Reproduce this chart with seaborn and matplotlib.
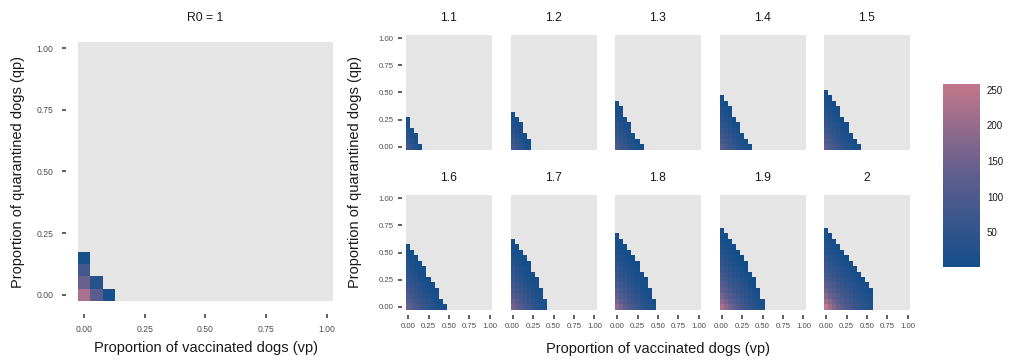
import numpy as np
import pandas as pd
import matplotlib
matplotlib.use("Agg")
import matplotlib.pyplot as plt
import seaborn as sns
from matplotlib.colors import LinearSegmentedColormap, ListedColormap, Normalize
from matplotlib.cm import ScalarMappable

sns.set_theme(style="white")
plt.rcParams["font.family"] = ["Liberation Sans", "DejaVu Sans"]

# grid of control proportions (vaccinated vp on x, quarantined qp on y)
grid = np.round(np.arange(21) * 0.05, 2)
tick_vals = [0.0, 0.25, 0.5, 0.75, 1.0]
tick_text = ["0.00", "0.25", "0.50", "0.75", "1.00"]

r0_labels = ["1", "1.1", "1.2", "1.3", "1.4", "1.5", "1.6", "1.7", "1.8", "1.9", "2"]

# values per panel: one list per vp column (vp = 0, 0.05, ...), each listing qp = 0, 0.05, ... upward
r0_1 = [[225, 140, 80, 10], [120, 35], [10]]
r0_1_1 = [[75, 55, 40, 28, 18, 8], [50, 35, 22, 10], [30, 18, 8], [8]]
r0_1_2 = [[80, 62, 48, 36, 25, 16, 7], [60, 46, 34, 23, 14, 6], [42, 30, 20, 12, 5],
          [22, 13, 5], [10, 4]]
r0_1_3 = [[95, 78, 63, 50, 40, 30, 21, 13, 6], [76, 61, 48, 37, 27, 18, 11, 5],
          [58, 45, 34, 24, 15, 7], [42, 31, 21, 12, 5], [26, 16, 7], [14, 6], [5]]
r0_1_4 = [[110, 92, 76, 62, 50, 40, 30, 21, 13, 6], [90, 74, 61, 49, 38, 28, 19, 11, 5],
          [72, 58, 46, 35, 25, 16, 9, 4], [55, 43, 32, 22, 13, 6], [40, 29, 19, 11, 5],
          [25, 15, 6], [14, 6], [5]]
r0_1_5 = [[125, 105, 88, 73, 60, 48, 38, 28, 19, 12, 5], [103, 86, 71, 58, 46, 35, 26, 17, 10, 4],
          [84, 69, 56, 44, 33, 24, 15, 8, 4], [66, 53, 42, 31, 22, 13, 7, 3],
          [50, 39, 28, 19, 11, 5], [36, 26, 17, 9, 4], [22, 13, 6], [12, 5], [4]]
r0_1_6 = [[140, 118, 99, 83, 69, 57, 46, 36, 27, 19, 11, 5],
          [116, 97, 81, 67, 55, 44, 34, 25, 17, 10, 4],
          [95, 79, 65, 53, 42, 32, 23, 15, 8, 4], [76, 63, 51, 40, 30, 21, 13, 7, 3],
          [60, 48, 37, 28, 19, 12, 6, 3], [45, 34, 25, 16, 9, 4], [32, 23, 14, 7, 3],
          [20, 12, 6, 3], [10, 4], [4]]
r0_1_7 = [[160, 135, 113, 95, 79, 65, 53, 42, 33, 24, 16, 9, 4],
          [133, 111, 93, 77, 63, 51, 40, 31, 22, 14, 8, 3],
          [109, 90, 75, 61, 49, 38, 29, 20, 12, 6, 3],
          [88, 73, 59, 47, 37, 27, 18, 11, 5, 3], [70, 57, 45, 35, 25, 17, 10, 5, 2],
          [54, 42, 32, 23, 15, 8, 3], [40, 30, 21, 13, 7, 3], [27, 18, 10, 4], [15, 6]]
r0_1_8 = [[185, 157, 132, 111, 93, 77, 63, 51, 40, 31, 23, 15, 8, 3],
          [155, 130, 109, 91, 75, 62, 50, 39, 30, 21, 14, 7, 3],
          [128, 107, 89, 74, 60, 48, 38, 28, 20, 12, 6, 3],
          [104, 87, 72, 58, 47, 36, 27, 18, 11, 5, 2],
          [84, 69, 56, 45, 35, 25, 17, 10, 5, 2], [66, 53, 42, 32, 23, 15, 8, 4, 2],
          [50, 39, 29, 20, 12, 6, 3], [36, 27, 18, 10, 5, 2], [24, 15, 8, 3], [13, 5]]
r0_1_9 = [[220, 187, 158, 134, 113, 95, 79, 65, 53, 42, 32, 23, 15, 8, 3],
          [185, 157, 133, 112, 94, 78, 64, 52, 41, 31, 22, 14, 7, 3],
          [155, 131, 111, 93, 77, 63, 51, 40, 30, 21, 13, 6, 3],
          [129, 109, 92, 76, 62, 50, 39, 29, 20, 12, 6, 2],
          [106, 89, 74, 61, 49, 38, 28, 19, 11, 5, 2],
          [86, 72, 59, 47, 37, 27, 18, 10, 5, 2], [69, 56, 45, 35, 25, 16, 9, 4, 2],
          [53, 42, 32, 22, 13, 6, 3], [39, 29, 20, 11, 5, 2], [26, 17, 9, 3], [14, 5]]
r0_2 = [[258, 215, 180, 150, 125, 104, 86, 71, 58, 46, 36, 27, 19, 11, 5],
        [212, 178, 149, 124, 103, 86, 71, 58, 46, 36, 27, 19, 11, 5],
        [176, 148, 124, 103, 86, 71, 58, 46, 36, 27, 19, 11, 5],
        [146, 123, 103, 86, 71, 58, 46, 36, 27, 19, 11, 5],
        [121, 102, 86, 71, 58, 46, 36, 27, 19, 11, 5],
        [100, 85, 71, 58, 46, 36, 27, 19, 11, 5],
        [83, 70, 58, 46, 36, 27, 19, 11, 5],
        [68, 57, 46, 36, 27, 19, 11, 5],
        [55, 45, 36, 27, 19, 11, 5],
        [43, 35, 27, 19, 11, 4],
        [33, 26, 19, 11, 4],
        [24, 17, 10, 1]]

panel_values = [r0_1, r0_1_1, r0_1_2, r0_1_3, r0_1_4, r0_1_5,
                r0_1_6, r0_1_7, r0_1_8, r0_1_9, r0_2]

# long table of all tiles
rows = []
for lab, cols in zip(r0_labels, panel_values):
    for i, col in enumerate(cols):
        for j, v in enumerate(col):
            rows.append((lab, grid[i], grid[j], v))
df = pd.DataFrame(rows, columns=["R0", "vp", "qp", "value"])

low, mid, high = "#144E8A", "#5F5E8E", "#C2778A"
cmap = LinearSegmentedColormap.from_list("bluepink", [low, mid, high])
vmin, vmax = df["value"].min(), df["value"].max()
norm = Normalize(vmin=vmin, vmax=vmax)
na_grey = "#E5E5E5"

pos = np.searchsorted(grid, tick_vals) + 0.5
ypos = (len(grid) - 1 - np.searchsorted(grid, tick_vals)) + 0.5
pad = 1.05  # 5% expansion around the tile grid, in tile units

tick_color = "#333333"
label_color = "#4D4D4D"
text_color = "#1A1A1A"


def draw_panel(ax, lab, show_x, show_y, tick_size, xpad, ypad):
    sub = df[df["R0"] == lab]
    mat = (sub.pivot(index="qp", columns="vp", values="value")
           .reindex(index=grid[::-1], columns=grid))
    background = pd.DataFrame(np.ones_like(mat.values, dtype=float),
                              index=mat.index, columns=mat.columns)
    sns.heatmap(background, cmap=ListedColormap([na_grey]), cbar=False, ax=ax,
                linewidths=0, xticklabels=False, yticklabels=False)
    sns.heatmap(mat, cmap=cmap, vmin=vmin, vmax=vmax, cbar=False, ax=ax,
                linewidths=0, xticklabels=False, yticklabels=False)
    ax.set_facecolor("white")
    ax.set_xlim(-pad, len(grid) + pad)
    ax.set_ylim(len(grid) + pad, -pad)
    for s in ax.spines.values():
        s.set_visible(False)
    ax.set_xlabel("")
    ax.set_ylabel("")
    ax.tick_params(axis="both", which="both", length=3.2, width=1.1, color=tick_color,
                   labelsize=tick_size, labelcolor=label_color, direction="out")
    ax.tick_params(axis="x", pad=xpad)
    ax.tick_params(axis="y", pad=ypad)
    if show_x:
        ax.set_xticks(pos)
        ax.set_xticklabels(tick_text, rotation=0)
        ax.tick_params(axis="x", bottom=True)
    else:
        ax.set_xticks([])
    if show_y:
        ax.set_yticks(ypos)
        ax.set_yticklabels(tick_text, rotation=0)
        ax.tick_params(axis="y", left=True)
    else:
        ax.set_yticks([])


W, H = 1011, 360
fig = plt.figure(figsize=(W / 100, H / 100), dpi=100)


def fx(px):
    return px / W


def fy(py):
    return 1 - py / H


# left panel, R0 = 1
ax0 = fig.add_axes([fx(65.6), fy(314), fx(279.8), 285 / H])
draw_panel(ax0, "1", True, True, 6.2, 4.5, 5.5)
ax0.set_title("R0 = 1", fontsize=8.8, color=text_color, pad=5.5)
fig.text(fx(205.5), fy(348), "Proportion of vaccinated dogs (vp)", ha="center", va="center",
         fontsize=10.5, color=text_color)
fig.text(fx(18), fy(171.5), "Proportion of quarantined dogs (qp)", ha="center", va="center",
         rotation=90, fontsize=10.5, color=text_color)

# small multiples for the remaining R0 values
lefts = [401.7, 506.2, 610.7, 715.2, 819.7]
tops = [29.6, 189.6]
pw, ph = 94.6, 125.8
for k, lab in enumerate(r0_labels[1:]):
    r, c = divmod(k, 5)
    ax = fig.add_axes([fx(lefts[c]), fy(tops[r] + ph), fx(pw), ph / H])
    draw_panel(ax, lab, r == 1, c == 0, 5.6, 2.5, 2.5)
    ax.set_title(lab, fontsize=8.8, color=text_color, pad=6.0)

fig.text(fx(658), fy(349), "Proportion of vaccinated dogs (vp)", ha="center", va="center",
         fontsize=10.5, color=text_color)
fig.text(fx(355), fy(172.5), "Proportion of quarantined dogs (qp)", ha="center", va="center",
         rotation=90, fontsize=10.5, color=text_color)

# colour bar
cax = fig.add_axes([fx(943), fy(267), fx(37), 183 / H])
sm = ScalarMappable(norm=norm, cmap=cmap)
cb = fig.colorbar(sm, cax=cax)
cb.outline.set_visible(False)
cb.set_ticks([50, 100, 150, 200, 250])
cax.yaxis.set_ticks_position("both")
cax.tick_params(axis="y", direction="in", length=5.5, width=0.6, colors="#EDEDED",
                labelcolor=text_color, labelsize=7.0, pad=5, labelleft=False, labelright=True)

fig.savefig("out.png", dpi=100)
